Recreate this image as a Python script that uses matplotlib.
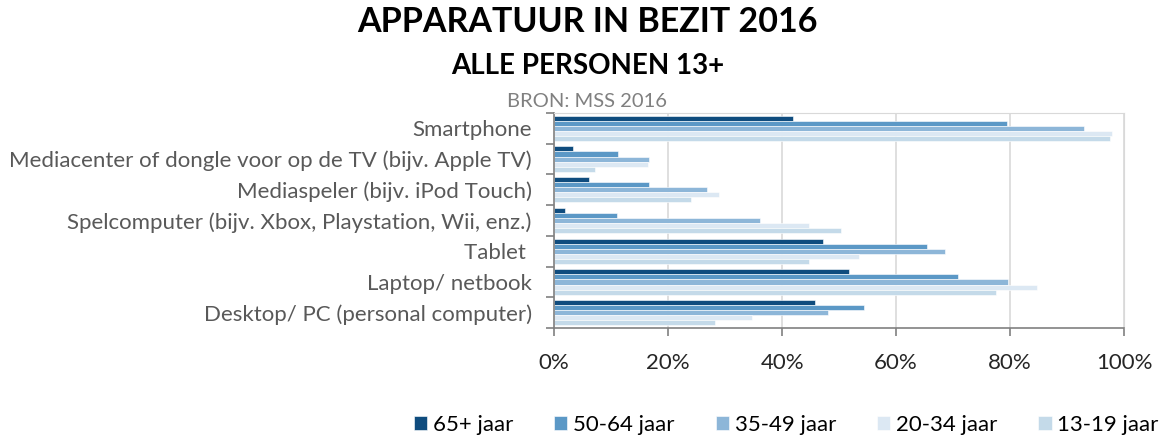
import matplotlib
matplotlib.use("Agg")
import matplotlib.pyplot as plt
import numpy as np

plt.rcParams['font.family'] = ['Lato', 'DejaVu Sans']

categories = [
    "Desktop/ PC (personal computer)",
    "Laptop/ netbook",
    "Tablet ",
    "Spelcomputer (bijv. Xbox, Playstation, Wii, enz.)",
    "Mediaspeler (bijv. iPod Touch)",
    "Mediacenter of dongle voor op de TV (bijv. Apple TV)",
    "Smartphone",
]
series_names = ["65+ jaar", "50-64 jaar", "35-49 jaar", "20-34 jaar", "13-19 jaar"]
# values per series, same order as categories (bottom to top)
v_65plus = [45.7, 51.8, 47.1, 2.0, 6.1, 3.4, 42.0]
v_50_64 = [54.4, 70.9, 65.4, 11.0, 16.7, 11.2, 79.4]
v_35_49 = [48.1, 79.6, 68.5, 36.1, 26.8, 16.7, 92.9]
v_20_34 = [34.8, 84.7, 53.5, 44.7, 29.0, 16.4, 97.9]
v_13_19 = [28.3, 77.6, 44.7, 50.3, 24.0, 7.1, 97.6]
colors = ["#0f4c7e", "#5b98c6", "#8db6d8", "#dce8f3", "#c4dae9"]

all_vals = [v_65plus, v_50_64, v_35_49, v_20_34, v_13_19]

fig = plt.figure(figsize=(11.63, 4.38), dpi=100)
ax = fig.add_axes([0.4764, 0.251, 0.4902, 0.491])

y = np.arange(len(categories))
h = 0.165
for i, (name, vals, c) in enumerate(zip(series_names, all_vals, colors)):
    off = (2 - i) * h
    ax.barh(y + off, vals, height=h, color=c, label=name,
            edgecolor="white", linewidth=0.4)

ax.set_xlim(0, 100)
ax.set_ylim(-0.5, len(categories) - 0.5)
ax.set_xticks([0, 20, 40, 60, 80, 100])
ax.set_xticklabels(["0%", "20%", "40%", "60%", "80%", "100%"],
                   fontsize=16, color="#262626")
ax.set_yticks(y)
ax.set_yticklabels(categories, fontsize=16, color="#595959")
ax.tick_params(axis="y", length=0, pad=16)
ax.set_yticks(np.arange(-0.5, len(categories), 1), minor=True)
ax.tick_params(axis="y", which="minor", length=6, color="#808080", width=1.2)
ax.tick_params(axis="x", length=6, color="#808080", width=1.2, pad=12)
ax.grid(axis="x", color="#d9d9d9", linewidth=1.2)
ax.set_axisbelow(True)
for s in ["top", "right"]:
    ax.spines[s].set_color("#d9d9d9")
for s in ["left", "bottom"]:
    ax.spines[s].set_color("#808080")
    ax.spines[s].set_linewidth(1.2)

fig.text(0.505, 0.95, "APPARATUUR IN BEZIT 2016", ha="center", va="center",
         fontsize=24.5, fontweight="bold", color="black")
fig.text(0.505, 0.849, "ALLE PERSONEN 13+", ha="center", va="center",
         fontsize=20, fontweight="bold", color="black")
fig.text(0.505, 0.769, "BRON: MSS 2016", ha="center", va="center",
         fontsize=14.5, color="#808080")

fig.legend(loc="center", bbox_to_anchor=(0.676, 0.03), ncol=5, frameon=False,
           fontsize=16, handlelength=0.6, handleheight=0.6, handletextpad=0.25,
           columnspacing=1.85)

fig.savefig("out.png", dpi=100)
